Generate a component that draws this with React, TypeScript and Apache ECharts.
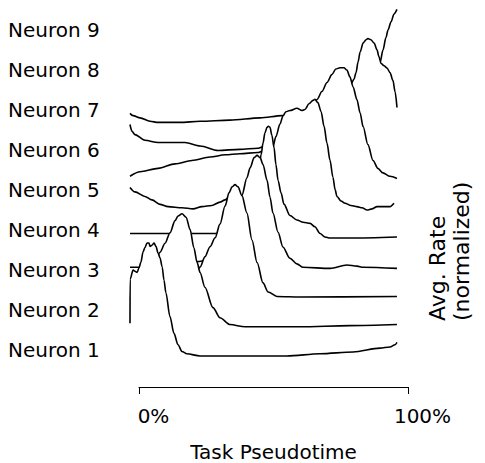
import React, { useEffect, useRef } from "react";
import * as echarts from "echarts";

const FONT = "DejaVu Sans";

const neuronNames = ["Neuron 1", "Neuron 2", "Neuron 3", "Neuron 4", "Neuron 5", "Neuron 6", "Neuron 7", "Neuron 8", "Neuron 9"];
const xTickLabels = ["0%", "100%"];
const xTitle = "Task Pseudotime";
const yTitle = "Avg. Rate\n(normalized)";

// x: task pseudotime (%), y: normalized average rate (0..1)
const xN1 = [-3.35, -3.3, -2.2, -1.5, -0.7, 0, 0.7, 1.5, 2.2, 3.0, 3.7, 4.1, 4.8, 5.6, 6.3, 7.1, 7.8, 8.6, 9.3, 10.0, 11.5, 13.0, 14.5, 16.0, 17.8, 22.7, 41.3, 55.0, 67.3, 79.6, 89.6, 93.3, 95.2, 95.9];
const yN1 = [0.29, 0.68, 0.76, 0.75, 0.74, 0.78, 0.83, 0.92, 0.96, 1.0, 1.0, 0.97, 0.98, 1.0, 0.97, 0.91, 0.87, 0.79, 0.67, 0.56, 0.35, 0.2, 0.1, 0.04, 0.02, 0, 0, 0, 0.02, 0.035, 0.07, 0.08, 0.1, 0.12];

const xN2 = [-3.35, 0.4, 4.1, 5.9, 7.8, 9.7, 11.5, 13.4, 14.5, 16.0, 17.5, 19.0, 20.4, 21.6, 22.7, 24.5, 27.5, 30.1, 33.8, 39.4, 59.9, 78.4, 95.9];
const yN2 = [0.24, 0.33, 0.46, 0.55, 0.66, 0.74, 0.83, 0.94, 0.98, 1.0, 0.97, 0.86, 0.7, 0.57, 0.48, 0.35, 0.17, 0.08, 0.02, 0, 0, 0.01, 0.02];

const xN3 = [-3.35, 4.1, 11.5, 17.1, 20.8, 22.7, 24.5, 26.4, 28.3, 30.1, 32.0, 33.5, 34.6, 35.7, 36.8, 38.3, 40.1, 42.0, 43.9, 46.1, 48.0, 51.3, 59.9, 95.9];
const yN3 = [0.02, 0.04, 0.07, 0.13, 0.21, 0.27, 0.36, 0.45, 0.53, 0.65, 0.81, 0.93, 0.98, 1.0, 0.98, 0.9, 0.75, 0.51, 0.31, 0.13, 0.05, 0.01, 0.005, 0.01];

const xN4 = [-3.35, -0.7, 4.1, 11.5, 19.0, 21.6, 25.3, 28.3, 32.0, 35.7, 37.5, 38.3, 40.1, 41.3, 42.8, 43.9, 45.0, 46.1, 47.6, 48.7, 49.8, 51.7, 53.5, 56.1, 58.7, 61.0, 71.0, 77.3, 81.0, 83.3, 95.9];
const yN4 = [0.01, 0.01, 0.02, 0.04, 0.05, 0.06, 0.07, 0.1, 0.19, 0.38, 0.56, 0.65, 0.8, 0.89, 0.98, 1.0, 0.98, 0.92, 0.78, 0.63, 0.49, 0.32, 0.19, 0.09, 0.04, 0.01, 0, 0.03, 0.02, 0.01, 0];

const xN5 = [-3.35, 4.1, 12.3, 20.8, 26.4, 29.4, 32.0, 35.7, 39.4, 42.0, 43.5, 44.6, 45.4, 46.1, 46.8, 47.6, 48.1, 48.7, 49.4, 50.2, 50.9, 51.7, 52.8, 53.9, 56.1, 58.7, 61.0, 63.6, 65.4, 67.3, 69.1, 71.0, 78.4, 95.9];
const yN5 = [0.05, 0.05, 0.05, 0.05, 0.05, 0.05, 0.07, 0.13, 0.21, 0.35, 0.48, 0.63, 0.75, 0.85, 0.94, 0.99, 1.0, 0.99, 0.92, 0.81, 0.66, 0.52, 0.41, 0.31, 0.21, 0.17, 0.15, 0.14, 0.11, 0.05, 0.02, 0.01, 0.01, 0.02];

const xN6 = [-3.35, -1.5, 2.2, 4.8, 7.8, 10.8, 16.0, 20.1, 23.4, 27.1, 30.1, 32.0, 33.8, 35.7, 37.5, 41.3, 44.2, 46.5, 48.0, 49.8, 50.9, 52.4, 53.5, 54.6, 56.1, 58.7, 60.6, 61.7, 63.2, 64.7, 65.4, 66.5, 67.7, 68.8, 69.9, 71.0, 72.1, 72.9, 73.6, 75.1, 76.6, 78.8, 81.0, 82.9, 84.8, 86.6, 88.5, 90.7, 93.3, 94.8];
const yN6 = [0.2, 0.16, 0.12, 0.09, 0.05, 0.03, 0.02, 0.01, 0.03, 0.04, 0.07, 0.09, 0.12, 0.12, 0.11, 0.15, 0.22, 0.34, 0.44, 0.56, 0.65, 0.76, 0.83, 0.87, 0.88, 0.9, 0.88, 0.89, 0.94, 0.97, 0.98, 0.95, 0.87, 0.74, 0.59, 0.44, 0.29, 0.18, 0.12, 0.08, 0.06, 0.04, 0.03, 0.02, 0.0, 0.01, 0.03, 0.03, 0.03, 0.06];

const xN7 = [-3.35, 0.4, 7.1, 13.4, 19.7, 26.4, 32.0, 37.5, 44.2, 45.7, 48.7, 54.3, 59.9, 63.6, 66.2, 68.0, 69.9, 71.7, 73.2, 74.7, 76.2, 77.3, 78.4, 79.6, 81.0, 82.2, 83.3, 85.1, 87.0, 88.8, 90.7, 93.3, 95.9];
const yN7 = [0.04, 0.08, 0.11, 0.15, 0.18, 0.21, 0.23, 0.24, 0.25, 0.26, 0.28, 0.34, 0.47, 0.62, 0.72, 0.79, 0.87, 0.94, 0.99, 1.0, 1.0, 0.98, 0.92, 0.83, 0.72, 0.6, 0.48, 0.32, 0.18, 0.11, 0.07, 0.04, 0.02];

const xN8 = [-3.35, -2.6, -1.5, 2.2, 7.1, 17.1, 22.7, 29.4, 37.5, 44.2, 45.7, 52.4, 59.9, 67.3, 72.9, 76.6, 78.8, 79.9, 80.7, 81.4, 82.2, 83.3, 84.4, 85.1, 86.2, 87.4, 88.5, 89.2, 90.0, 91.1, 92.2, 93.3, 94.4, 95.2, 95.9];
const yN8 = [0.24, 0.18, 0.15, 0.1, 0.08, 0.08, 0.05, 0.01, 0.02, 0.03, 0.04, 0.06, 0.1, 0.21, 0.37, 0.51, 0.6, 0.64, 0.7, 0.79, 0.88, 0.96, 0.99, 1.0, 0.99, 0.96, 0.9, 0.84, 0.78, 0.76, 0.74, 0.7, 0.63, 0.53, 0.39];

const xN9 = [-3.35, -2.2, 0.4, 4.1, 7.1, 15.2, 22.7, 33.8, 45.0, 53.2, 59.9, 67.3, 74.7, 80.3, 84.0, 86.6, 88.5, 89.6, 90.7, 91.8, 92.6, 93.7, 94.8, 95.9];
const yN9 = [0.08, 0.06, 0.04, 0.01, 0.0, 0.0, 0.01, 0.02, 0.04, 0.06, 0.05, 0.06, 0.09, 0.18, 0.29, 0.38, 0.46, 0.53, 0.64, 0.75, 0.82, 0.89, 0.96, 1.0];

const xs = [xN1, xN2, xN3, xN4, xN5, xN6, xN7, xN8, xN9];
const ys = [yN1, yN2, yN3, yN4, yN5, yN6, yN7, yN8, yN9];
const ridgeSpacing = 0.2584;

export default function App() {
  const ref = useRef<HTMLDivElement>(null);
  useEffect(() => {
    if (!ref.current) return;
    const chart = echarts.init(ref.current, null, { renderer: "svg" });
    const series: any[] = [];
    for (let i = neuronNames.length - 1; i >= 0; i--) {
      const off = i * ridgeSpacing;
      series.push({
        type: "line",
        name: neuronNames[i],
        xAxisIndex: 0,
        yAxisIndex: 0,
        data: xs[i].map((x, k) => [x, off + ys[i][k]]),
        showSymbol: false,
        symbol: "none",
        smooth: 0.3,
        smoothMonotone: "x",
        clip: false,
        silent: true,
        z: 20 - i,
        lineStyle: { color: "#000", width: 1.6 },
        areaStyle: { color: "#fff", opacity: 1, origin: off },
      });
    }
    chart.setOption({
      animation: false,
      backgroundColor: "#fff",
      grid: [
        { left: 128.24, width: 279.76, top: 5.7, height: 383.07 },
        { left: 120, width: 10, top: 10, height: 360 },
        { left: 139, width: 269, top: 370, height: 19 },
      ],
      xAxis: [
        { type: "value", gridIndex: 0, min: -4, max: 100, show: false },
        { type: "value", gridIndex: 1, show: false },
        {
          type: "value",
          gridIndex: 2,
          min: 0,
          max: 100,
          interval: 100,
          axisLine: { show: true, onZero: false, lineStyle: { color: "#000", width: 1 } },
          axisTick: { show: true, length: 7, lineStyle: { color: "#000", width: 1 } },
          splitLine: { show: false },
          axisLabel: {
            formatter: (v: number) => (v === 0 ? xTickLabels[0] : xTickLabels[1]),
            fontSize: 20,
            fontFamily: FONT,
            color: "#000",
            margin: 19,
            padding: [0, 0, 0, 29],
          },
          name: xTitle,
          nameLocation: "middle",
          nameGap: 55,
          nameTextStyle: { fontSize: 20, fontFamily: FONT, color: "#000" },
        },
      ],
      yAxis: [
        { type: "value", gridIndex: 0, min: -0.29, max: 3.1, show: false },
        {
          type: "category",
          gridIndex: 1,
          data: neuronNames,
          axisLine: { show: false },
          axisTick: { show: false },
          splitLine: { show: false },
          axisLabel: {
            interval: 0,
            align: "left",
            margin: 112,
            fontSize: 20,
            fontFamily: FONT,
            color: "#000",
          },
        },
        { type: "value", gridIndex: 2, min: 0, max: 1, show: false },
      ],
      graphic: [
        {
          type: "text",
          x: 449,
          y: 321,
          rotation: Math.PI / 2,
          style: {
            text: yTitle,
            fontSize: 22,
            fontFamily: FONT,
            fill: "#000",
            align: "left",
            verticalAlign: "middle",
            lineHeight: 24,
          },
        },
      ],
      series,
    });
    return () => chart.dispose();
  }, []);
  return <div ref={ref} style={{ position: "absolute", left: 0, top: 0, width: 485, height: 463 }} />;
}
